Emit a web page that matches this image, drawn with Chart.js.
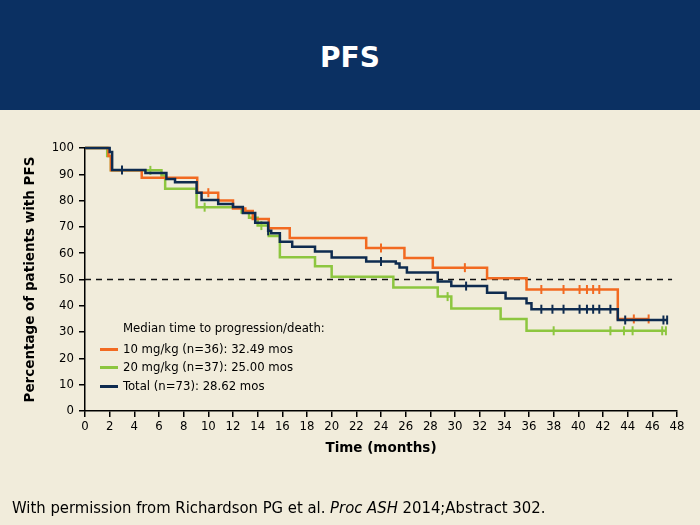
<!DOCTYPE html>
<html><head><meta charset="utf-8">
<script src="https://cdn.jsdelivr.net/npm/chart.js@4.4.1/dist/chart.umd.min.js"></script>
<style>
html,body{margin:0;padding:0;}
body{width:700px;height:525px;background:#f1ecdb;position:relative;overflow:hidden;font-family:"DejaVu Sans",sans-serif;}
#header{position:absolute;left:0;top:0;width:700px;height:110px;background:#0b3062;}
#title{position:absolute;left:0;top:0;width:700px;height:110px;text-align:center;color:#fff;font:bold 28px "DejaVu Sans",sans-serif;line-height:116px;}
#c{position:absolute;left:0;top:0;}
.lg{position:absolute;font:13px "DejaVu Sans Condensed","DejaVu Sans",sans-serif;color:#000;white-space:nowrap;line-height:16px;}
.sw{position:absolute;width:18px;height:3px;}
#footer{position:absolute;left:12px;top:497px;font:16.5px "DejaVu Sans Condensed","DejaVu Sans",sans-serif;color:#000;white-space:nowrap;line-height:22px;}
</style></head>
<body>
<div id="header"></div>
<div id="title">PFS</div>
<canvas id="c" width="700" height="525"></canvas>
<div id="legendBox"></div>
<div id="footer">With permission from Richardson PG et al. <i>Proc ASH</i> 2014;Abstract 302.</div>
<script>
// ---- data ----
const seriesLabels = ['10 mg/kg (n=36): 32.49 mos', '20 mg/kg (n=37): 25.00 mos', 'Total (n=73): 28.62 mos'];
const seriesColors = ['#f26a21', '#8dc63f', '#0e2b4f'];
const legendTitle = 'Median time to progression/death:';

const t10 = [0, 1.9, 2.1, 4.6, 9.1, 10.8, 12.0, 13.0, 13.6, 14.9, 16.6, 22.8, 25.9, 28.2, 32.6, 35.8, 43.2, 45.7];
const s10 = [100, 97, 91.5, 88.7, 83, 80, 77, 76, 73, 69.5, 65.8, 62, 58.2, 54.5, 50.5, 46.2, 35, 35];
const c10 = [10.0, 24.0, 30.8, 37.0, 38.8, 40.1, 40.7, 41.2, 41.7, 44.5, 45.7];

const t20 = [0, 1.8, 2.1, 6.2, 6.5, 9.05, 12.7, 13.3, 14.0, 14.9, 15.8, 18.65, 20.0, 25.0, 28.6, 29.7, 33.7, 35.8, 47.1];
const s20 = [100, 97, 91.5, 89.5, 84.5, 77.5, 75.5, 73.5, 70.5, 66.5, 58.5, 55, 51, 47, 43.5, 39, 35, 30.5, 30.5];
const c20 = [5.3, 9.7, 14.3, 29.4, 38.0, 42.6, 43.7, 44.4, 46.8, 47.1];

const tAll = [0, 2.0, 2.2, 4.9, 6.6, 7.3, 9.05, 9.45, 10.8, 12.0, 12.8, 13.8, 14.85, 15.1, 15.8, 16.8, 18.65, 20.0, 22.8, 25.2, 25.5, 26.1, 28.6, 29.7, 32.6, 34.1, 35.8, 36.2, 43.2, 47.2];
const sAll = [100, 98.5, 91.6, 90.5, 88.2, 87, 83, 80.2, 78.7, 77.6, 75.3, 71.6, 68.5, 67.6, 64.4, 62.5, 60.6, 58.4, 56.8, 56.1, 54.6, 52.7, 49.2, 47.5, 45, 42.8, 41, 38.7, 34.6, 34.6];
const cAll = [3.0, 14.85, 24.0, 30.9, 37.0, 37.9, 38.8, 40.1, 40.7, 41.2, 41.7, 42.6, 43.8, 46.9, 47.2];

const refLevel = 50;
const refEnd = 47.6;
const xMax = 48, xStep = 2, yMax = 100, yStep = 10;

// ---- helpers ----
function pts(ts, ss){ return ts.map((t,i)=>({x:t, y:ss[i]})); }
function levelAt(ts, ss, t){ let v = ss[0]; for(let i=0;i<ts.length;i++){ if(ts[i] <= t) v = ss[i]; } return v; }
function cens(ts, ss, cs){ return cs.map(t=>({x:t, y:levelAt(ts, ss, t)})); }

const tickFont = {family:'"DejaVu Sans Condensed","DejaVu Sans",sans-serif', size:13};
const titleFont = {family:'"DejaVu Sans",sans-serif', size:13.5, weight:'bold'};

function stepDs(data, color, order){
  return {type:'line', data, borderColor:color, borderWidth:2.5, stepped:true, pointRadius:0, fill:false, order, clip:6};
}
function censDs(data, color, order){
  return {type:'line', data, showLine:false, borderColor:color, backgroundColor:color, pointStyle:'line', rotation:90, pointRadius:4.5, borderWidth:2, order, clip:8};
}

new Chart(document.getElementById('c'), {
  type:'line',
  data:{datasets:[
    {type:'line', data:[{x:0,y:refLevel},{x:refEnd,y:refLevel}], borderColor:'#111', borderWidth:1.5, borderDash:[6,5], pointRadius:0, order:10},
    stepDs(pts(t20,s20), seriesColors[1], 5),
    censDs(cens(t20,s20,c20), seriesColors[1], 4),
    stepDs(pts(t10,s10), seriesColors[0], 3),
    censDs(cens(t10,s10,c10), seriesColors[0], 2),
    stepDs(pts(tAll,sAll), seriesColors[2], 1),
    censDs(cens(tAll,sAll,cAll), seriesColors[2], 0)
  ]},
  options:{
    responsive:false, animation:false,
    layout:{padding:{left:18, top:148, right:23, bottom:64}},
    plugins:{legend:{display:false}, tooltip:{enabled:false}},
    scales:{
      x:{type:'linear', min:0, max:xMax,
        ticks:{stepSize:xStep, color:'#000', font:tickFont, padding:2, maxRotation:0, autoSkip:false},
        grid:{drawOnChartArea:false, color:'#000', tickLength:6, lineWidth:1.5},
        border:{color:'#000', width:1.5},
        title:{display:true, text:'Time (months)', color:'#000', font:titleFont, padding:{top:4,bottom:4}},
        afterFit(s){ s.height = 50; }
      },
      y:{type:'linear', min:0, max:yMax,
        ticks:{stepSize:yStep, color:'#000', font:tickFont, padding:5},
        grid:{drawOnChartArea:false, color:'#000', tickLength:6, lineWidth:1.5},
        border:{color:'#000', width:1.5},
        title:{display:true, text:'Percentage of patients with PFS', color:'#000', font:titleFont, padding:{top:4,bottom:4}},
        afterFit(s){ s.width = 67; }
      }
    }
  }
});

// ---- legend overlay ----
const box = document.getElementById('legendBox');
const rowsY = [328, 349, 367, 386];
const t0 = document.createElement('div'); t0.className='lg'; t0.textContent = legendTitle;
t0.style.left='123px'; t0.style.top=(rowsY[0]-8)+'px'; box.appendChild(t0);
seriesLabels.forEach((lab,i)=>{
  const y = rowsY[i+1];
  const sw = document.createElement('div'); sw.className='sw'; sw.style.background=seriesColors[i];
  sw.style.left='100px'; sw.style.top=(y-1)+'px'; box.appendChild(sw);
  const tx = document.createElement('div'); tx.className='lg'; tx.textContent=lab;
  tx.style.left='123px'; tx.style.top=(y-8)+'px'; box.appendChild(tx);
});
</script>
</body></html>
